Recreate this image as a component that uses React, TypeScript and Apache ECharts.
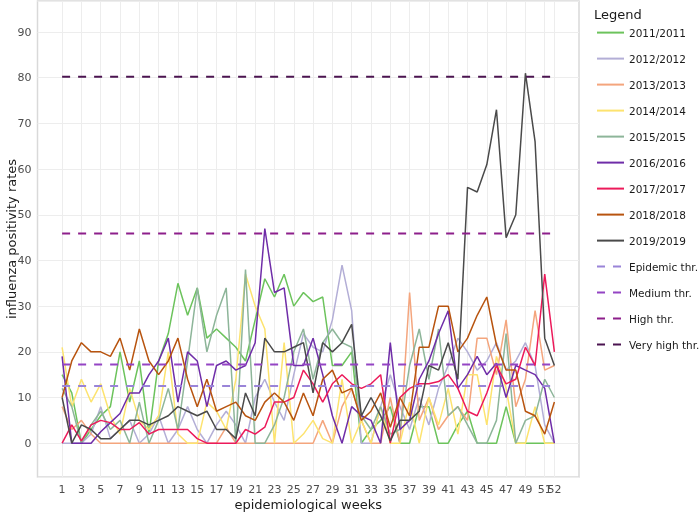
import React, { useEffect, useRef } from 'react';
import * as echarts from 'echarts';

const weeks = [1, 2, 3, 4, 5, 6, 7, 8, 9, 10, 11, 12, 13, 14, 15, 16, 17, 18, 19, 20, 21, 22, 23, 24, 25, 26, 27, 28, 29, 30, 31, 32, 33, 34, 35, 36, 37, 38, 39, 40, 41, 42, 43, 44, 45, 46, 47, 48, 49, 50, 51, 52];
const xBreaks = [1, 3, 5, 7, 9, 11, 13, 15, 17, 19, 21, 23, 25, 27, 29, 31, 33, 35, 37, 39, 41, 43, 45, 47, 49, 51, 52];
const xBreaksOdd = [1, 3, 5, 7, 9, 11, 13, 15, 17, 19, 21, 23, 25, 27, 29, 31, 33, 35, 37, 39, 41, 43, 45, 47, 49, 51];
const xBreaksLast = [52];

const seriesNames = ['2011/2011', '2012/2012', '2013/2013', '2014/2014', '2015/2015', '2016/2016', '2017/2017', '2018/2018', '2019/2019'];
const seriesColors = ['#6cc35c', '#b3aed6', '#f4a57d', '#fde36f', '#8db599', '#6f2da8', '#ec1a5a', '#b8540f', '#4a4a4a'];

const s2011 = [15, 11, 0, 3, 6, 8, 20, 9, 18, 2, 18, 24, 35, 28, 34, 23, 25, 23, 21, 18, 27, 36, 32, 37, 30, 33, 31, 32, 17, 17, 20, 0, 3, 5, 8, 0, 0, 8, 8, 0, 0, 4, 7, 0, 0, 0, 8, 0, 0, 0, 0, 0];
const s2012 = [0, 0, 0, 2, 8, 1, 3, 5, 0, 2, 6, 0, 3, 8, 3, 0, 4, 7, 4, 0, 10, 14, 9, 5, 15, 24, 21, 20, 27, 39, 29, 0, 0, 8, 15, 8, 3, 10, 4, 12, 17, 23, 20, 16, 18, 22, 16, 18, 22, 17, 4, 0];
const s2013 = [8, 3, 5, 2, 0, 0, 0, 0, 0, 0, 0, 0, 0, 0, 0, 0, 0, 3.5, 0, 0, 0, 0, 0, 0, 0, 0, 0, 5, 0, 8, 12, 5, 0, 0, 10, 0, 33, 5, 10, 3, 6, 8, 5, 23, 23, 15, 27, 8, 14, 29, 16, 17];
const s2014 = [21, 8, 14, 9, 13, 6, 2, 12, 5, 3, 6, 20, 2, 0, 0, 9, 7, 3, 14, 37, 30, 25, 0, 22, 0, 2, 5, 1, 0, 14, 0, 5, 0, 8, 0, 0, 9, 0, 10, 4, 12, 2, 15, 15, 4, 19, 12, 0, 0, 8, 0, 0];
const s2015 = [12, 8, 0, 4, 7, 3, 5, 0, 9, 0, 5, 12, 3, 18, 34, 20, 28, 34, 0, 38, 0, 0, 4, 10, 20, 25, 14, 22, 25, 22, 21, 6, 3, 8, 2, 3, 17, 25, 14, 25, 6, 8, 4, 0, 0, 5, 24, 0, 5, 6, 14, 10];
const s2016 = [19, 0, 0, 0, 2.5, 4.5, 6.5, 11, 11, 15, 18, 23, 9, 20, 18, 8, 17, 18, 16, 17, 22, 47, 33, 34, 17, 17, 23, 15, 6, 0, 8, 6, 5, 0, 22, 3, 5, 14, 18, 24, 29, 12, 15, 19, 15, 17.5, 10, 17, 16, 15, 12, 0];
const s2017 = [0, 4, 0.5, 4, 5, 4.5, 3, 3, 4.5, 2, 3, 3, 3, 3, 1, 0, 0, 0, 0, 3, 2, 3.5, 9, 9, 10, 16, 13, 9, 13, 15, 13, 12, 13, 15, 0, 10, 12, 13, 13, 13.5, 15, 12, 7, 6, 11, 17, 13, 14, 21, 17, 37, 20];
const s2018 = [10, 18, 22, 20, 20, 19, 23, 16, 25, 18, 15, 18, 23, 14, 8, 14, 7, 8, 9, 6, 5, 9, 11, 9, 5, 11, 6, 14, 16, 11, 12, 5, 7, 11, 3.5, 10, 6, 21, 21, 30, 30, 20, 23, 28, 32, 21.5, 16, 16, 7, 6, 2, 9];
const s2019 = [10, 0, 4, 3, 1, 1, 3, 5, 5, 4, 5, 6, 8, 7, 6, 7, 3, 3, 1, 11, 6, 23, 20, 20, 21, 22, 11, 22, 20, 22, 26, 6, 10, 6, 0.5, 5, 5, 7, 17, 16, 22, 14, 56, 55, 61, 73, 45, 50, 81, 66, 23, 17];
const seriesValues = [s2011, s2012, s2013, s2014, s2015, s2016, s2017, s2018, s2019];

const thresholdNames = ['Epidemic thr.', 'Medium thr.', 'High thr.', 'Very high thr.'];
const thresholdValues = [12.5, 17.2, 45.9, 80.2];
const thresholdColors = ['#9a84d8', '#9444c4', '#8d1f8b', '#4b1450'];
const thresholdWeeks = [1, 52];

export default function App() {
  const ref = useRef<HTMLDivElement>(null);
  useEffect(() => {
    if (!ref.current) return;
    const chart = echarts.init(ref.current, undefined, { renderer: 'svg' });
    const font = 'DejaVu Sans';
    const gridSeries = {
      type: 'line',
      data: [],
      z: 1,
      silent: true,
      markLine: {
        silent: true,
        z: 1,
        symbol: 'none',
        animation: false,
        label: { show: false },
        lineStyle: { color: '#ededed', width: 1, type: 'solid' },
        data: xBreaks.map((v) => ({ xAxis: v })),
      },
    };
    const lineSeries = seriesNames.map((name, i) => ({
      name,
      type: 'line',
      data: seriesValues[i].map((v, j) => [weeks[j], v]),
      symbol: 'none',
      lineStyle: { color: seriesColors[i], width: 1.5 },
      itemStyle: { color: seriesColors[i] },
      z: 2 + i * 0.01,
      silent: true,
    }));
    const thrSeries = thresholdNames.map((name, i) => ({
      name,
      type: 'line',
      data: thresholdWeeks.map((w) => [w, thresholdValues[i]]),
      symbol: 'none',
      lineStyle: { color: thresholdColors[i], width: 2, type: [8, 8] },
      itemStyle: { color: thresholdColors[i] },
      z: 3,
      silent: true,
    }));
    const labelStyle = { fontSize: 11, color: '#4d4d4d', margin: 7, fontFamily: font, hideOverlap: false };
    chart.setOption({
      animation: false,
      textStyle: { fontFamily: font },
      title: {
        text: 'Legend',
        left: 589,
        top: 3,
        textStyle: { fontSize: 13, fontWeight: 'normal', color: '#1a1a1a', fontFamily: font },
      },
      legend: {
        orient: 'vertical',
        left: 596,
        top: 27,
        padding: 0,
        itemWidth: 27,
        itemHeight: 14,
        itemGap: 14.8,
        selectedMode: false,
        itemStyle: { opacity: 0, color: 'transparent', borderWidth: 0 },
        textStyle: { fontSize: 10.5, color: '#1a1a1a', fontFamily: font },
        data: [...seriesNames, ...thresholdNames],
      },
      grid: {
        left: 37.5,
        top: 1,
        right: 121,
        bottom: 37,
        outerBoundsMode: 'none',
        containLabel: false,
        show: true,
        borderColor: '#d9d9d9',
        borderWidth: 1.5,
        backgroundColor: 'transparent',
      },
      xAxis: [
        {
          type: 'value',
          position: 'bottom',
          min: -1.55,
          max: 54.55,
          name: 'epidemiological weeks',
          nameLocation: 'middle',
          nameGap: 21,
          nameMoveOverlap: false,
          nameTextStyle: { fontSize: 13, color: '#1a1a1a', fontFamily: font },
          axisLine: { show: false },
          axisTick: { show: false, customValues: xBreaksOdd },
          axisLabel: { ...labelStyle, customValues: xBreaksOdd, showMinLabel: true, showMaxLabel: true },
          splitLine: { show: false },
        },
        {
          type: 'value',
          position: 'bottom',
          offset: 0,
          min: -1.55,
          max: 54.55,
          axisLine: { show: false },
          axisTick: { show: false, customValues: xBreaksLast },
          axisLabel: { ...labelStyle, customValues: xBreaksLast, showMinLabel: true, showMaxLabel: true },
          splitLine: { show: false },
        },
      ],
      yAxis: {
        type: 'value',
        min: -7.4,
        max: 96.8,
        splitNumber: 10,
        name: 'influenza positivity rates',
        nameLocation: 'middle',
        nameGap: 20,
        nameMoveOverlap: false,
        nameTextStyle: { fontSize: 13, color: '#1a1a1a', fontFamily: font },
        axisLine: { show: false },
        axisTick: { show: false },
        axisLabel: { showMinLabel: false, showMaxLabel: false, fontSize: 11, color: '#4d4d4d', margin: 6, fontFamily: font },
        splitLine: { show: true, lineStyle: { color: '#ededed', width: 1 } },
      },
      series: [gridSeries, ...lineSeries, ...thrSeries],
    });
    return () => chart.dispose();
  }, []);
  return <div ref={ref} style={{ position: 'fixed', left: 0, top: 0, width: 700, height: 514 }} />;
}
